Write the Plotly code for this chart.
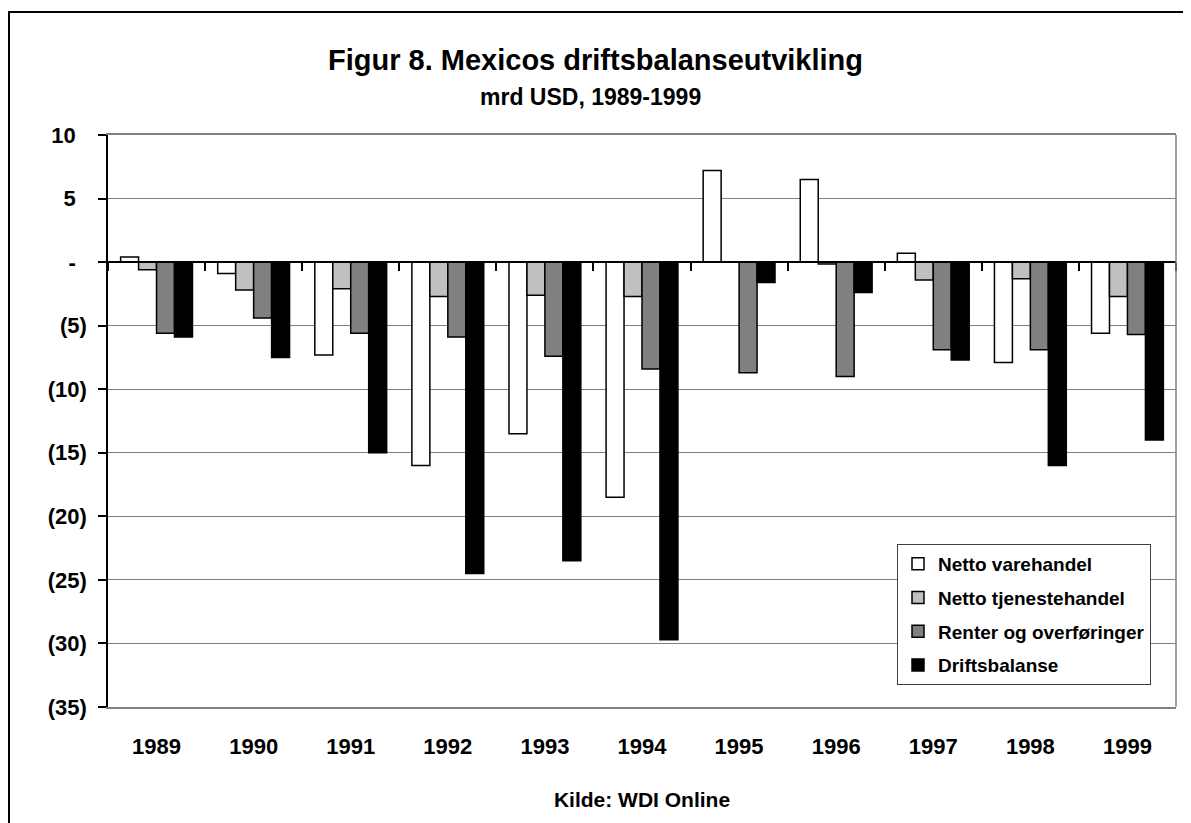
import plotly.graph_objects as go

years = ["1989", "1990", "1991", "1992", "1993", "1994", "1995", "1996", "1997", "1998", "1999"]
netto_varehandel = [0.4, -0.9, -7.3, -16.0, -13.5, -18.5, 7.2, 6.5, 0.7, -7.9, -5.6]
netto_tjenestehandel = [-0.6, -2.2, -2.1, -2.7, -2.6, -2.7, 0.0, -0.15, -1.4, -1.3, -2.7]
renter_overforinger = [-5.6, -4.4, -5.6, -5.9, -7.4, -8.4, -8.7, -9.0, -6.9, -6.9, -5.7]
driftsbalanse = [-5.9, -7.5, -15.0, -24.5, -23.5, -29.7, -1.6, -2.4, -7.7, -16.0, -14.0]

series_names = ["Netto varehandel", "Netto tjenestehandel", "Renter og overføringer", "Driftsbalanse"]
series_values = [netto_varehandel, netto_tjenestehandel, renter_overforinger, driftsbalanse]
series_colors = ["#FFFFFF", "#C0C0C0", "#808080", "#000000"]

y_tickvals = [10, 5, 0, -5, -10, -15, -20, -25, -30, -35]
y_ticktext = ["10\u2002", "5\u2002", "-\u2002", "(5)", "(10)", "(15)", "(20)", "(25)", "(30)", "(35)"]

FONT = "Arial, Liberation Sans, sans-serif"

# page has an 8px body margin: figure occupies page pixels 8..1191 x 8..823
W, H = 1183, 815
L, R, T, B = 100, 15, 127, 116
PW = W - L - R
PH = H - T - B


def px(xpage):
    return (xpage - 8 - L) / PW


def py(ypage):
    return (H - B - (ypage - 8)) / PH


fig = go.Figure()
for name, vals, col in zip(series_names, series_values, series_colors):
    fig.add_trace(go.Bar(
        x=years, y=vals, name=name, legendgroup=name,
        marker=dict(color=col, line=dict(color="#000000", width=1.5)),
    ))

# helper axis drawn at the zero line, carrying the category tick marks
fig.add_trace(go.Scatter(x=[0], y=[0], xaxis="x2", mode="markers",
                         marker=dict(opacity=0), showlegend=False, hoverinfo="skip"))

fig.update_layout(
    width=W, height=H,
    paper_bgcolor="white", plot_bgcolor="white",
    margin=dict(l=L, r=R, t=T, b=B),
    barmode="group", bargap=0.26, bargroupgap=0,
    font=dict(family=FONT, color="black"),
    showlegend=True,
    legend=dict(
        x=px(897), y=py(544), xanchor="left", yanchor="top",
        bgcolor="white", bordercolor="#404040", borderwidth=1,
        font=dict(family=FONT, size=19, color="black", weight="bold"),
        traceorder="grouped", tracegroupgap=6,
    ),
    xaxis=dict(
        type="category", range=[-0.5, 10.5],
        showline=True, linecolor="#808080", linewidth=1.5, mirror=True,
        ticks="", showgrid=False, zeroline=False,
        tickfont=dict(family=FONT, size=22, weight="bold"),
        ticklabelstandoff=19,
        title=dict(text="Kilde: WDI Online", font=dict(family=FONT, size=21, weight="bold"), standoff=34),
    ),
    xaxis2=dict(
        overlaying="x", anchor="free", position=35 / 45, side="bottom",
        range=[-0.5, 10.5], tickvals=[-0.5, 0.5, 1.5, 2.5, 3.5, 4.5, 5.5, 6.5, 7.5, 8.5, 9.5, 10.5],
        ticks="outside", ticklen=8, tickwidth=1.5, tickcolor="black",
        showticklabels=False, showgrid=False, zeroline=False,
        showline=True, linecolor="black", linewidth=1.5,
    ),
    yaxis=dict(
        range=[-35, 10], tickvals=y_tickvals, ticktext=y_ticktext,
        showline=True, linecolor="black", linewidth=1.5,
        ticks="outside", ticklen=8, tickwidth=1.5, tickcolor="black",
        showgrid=True, gridcolor="#808080", gridwidth=1, zeroline=False,
        tickfont=dict(family=FONT, size=22, weight="bold"),
        ticklabelstandoff=7,
    ),
    shapes=[
        dict(type="line", xref="paper", yref="paper", x0=1, x1=1, y0=0, y1=1,
             line=dict(color="#808080", width=1.5)),
        dict(type="rect", xref="paper", yref="paper",
             x0=px(9), x1=1.2, y0=-0.6, y1=py(12),
             line=dict(color="black", width=2), fillcolor="rgba(0,0,0,0)", layer="below"),
    ],
    annotations=[
        dict(text="Figur 8. Mexicos driftsbalanseutvikling", xref="paper", yref="paper",
             x=px(595), y=py(60), showarrow=False,
             font=dict(family=FONT, size=29, weight="bold"), xanchor="center", yanchor="middle"),
        dict(text="mrd USD, 1989-1999", xref="paper", yref="paper",
             x=px(590), y=py(97), showarrow=False,
             font=dict(family=FONT, size=23, weight="bold"), xanchor="center", yanchor="middle"),
    ],
)

fig.write_html("out.html")
